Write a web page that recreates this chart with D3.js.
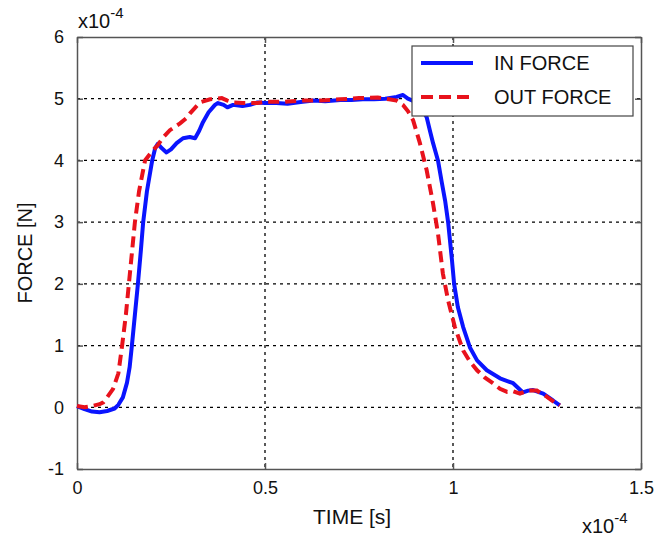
<!DOCTYPE html>
<html>
<head>
<meta charset="utf-8">
<script src="https://cdn.jsdelivr.net/npm/d3@7"></script>
<style>
  body { margin: 0; background: #fff; }
  svg { font-family: "Liberation Sans", Arial, sans-serif; }
</style>
</head>
<body>
<script>
// time in units of 1e-4 s, force in units of 1e-4 N
const inTime = [0, 0.02, 0.04, 0.06, 0.08, 0.1, 0.11, 0.122, 0.133, 0.14, 0.146, 0.154, 0.162, 0.17, 0.176, 0.186, 0.2, 0.208, 0.215, 0.225, 0.238, 0.25, 0.265, 0.282, 0.3, 0.314, 0.325, 0.335, 0.35, 0.367, 0.375, 0.39, 0.4, 0.415, 0.44, 0.46, 0.48, 0.5, 0.53, 0.56, 0.6, 0.63, 0.66, 0.7, 0.73, 0.76, 0.79, 0.82, 0.85, 0.867, 0.88, 0.9, 0.915, 0.93, 0.94, 0.947, 0.96, 0.97, 0.979, 0.987, 0.997, 1.003, 1.013, 1.027, 1.045, 1.064, 1.09, 1.125, 1.16, 1.186, 1.2, 1.213, 1.24, 1.266, 1.284];
const inForce = [0.02, -0.03, -0.07, -0.08, -0.06, -0.02, 0.04, 0.16, 0.4, 0.65, 1.0, 1.5, 2.0, 2.55, 3.0, 3.5, 4.0, 4.2, 4.27, 4.2, 4.13, 4.18, 4.28, 4.36, 4.38, 4.36, 4.48, 4.62, 4.78, 4.9, 4.93, 4.9, 4.86, 4.9, 4.88, 4.9, 4.94, 4.93, 4.93, 4.92, 4.95, 4.97, 4.96, 4.98, 4.98, 4.99, 4.99, 5.0, 5.03, 5.06, 5.0, 4.95, 4.85, 4.7, 4.45, 4.28, 4.0, 3.65, 3.35, 3.0, 2.4, 2.0, 1.62, 1.3, 0.97, 0.76, 0.6, 0.47, 0.39, 0.24, 0.27, 0.28, 0.22, 0.11, 0.03];

const outTime = [0, 0.02, 0.04, 0.06, 0.07, 0.08, 0.096, 0.11, 0.12, 0.13, 0.138, 0.146, 0.154, 0.165, 0.181, 0.2, 0.215, 0.23, 0.247, 0.274, 0.29, 0.3, 0.315, 0.327, 0.354, 0.385, 0.4, 0.415, 0.44, 0.48, 0.5, 0.55, 0.6, 0.65, 0.7, 0.75, 0.8, 0.83, 0.85, 0.867, 0.88, 0.894, 0.912, 0.93, 0.947, 0.96, 0.973, 0.987, 1.005, 1.027, 1.045, 1.064, 1.085, 1.106, 1.125, 1.144, 1.16, 1.178, 1.197, 1.223, 1.25, 1.27, 1.284];
const outForce = [0.02, 0.0, 0.02, 0.05, 0.08, 0.16, 0.3, 0.55, 1.0, 1.5, 2.0, 2.5, 3.0, 3.5, 4.0, 4.15, 4.25, 4.38, 4.49, 4.6, 4.68, 4.76, 4.86, 4.94, 4.99, 5.01, 4.97, 4.94, 4.93, 4.93, 4.95, 4.95, 4.97, 4.97, 4.99, 5.01, 5.02, 4.99, 4.97, 4.9, 4.8, 4.65, 4.28, 3.84, 3.3, 2.82, 2.17, 1.73, 1.3, 0.92, 0.74, 0.6, 0.48, 0.39, 0.3, 0.25, 0.26, 0.22, 0.27, 0.27, 0.17, 0.08, 0.03];

const xTicks = [0, 0.5, 1, 1.5];
const yTicks = [-1, 0, 1, 2, 3, 4, 5, 6];
const seriesNames = ['IN FORCE', 'OUT FORCE'];

const width = 666, height = 537;
const margin = {left: 77, top: 37, right: 25, bottom: 68};
const plotW = width - margin.left - margin.right;
const plotH = height - margin.top - margin.bottom;

let svg = d3.select('body').append('svg')
    .attr('width', width)
    .attr('height', height);

let xScale = d3.scaleLinear().domain([0, 1.5]).range([0, plotW]);
let yScale = d3.scaleLinear().domain([-1, 6]).range([plotH, 0]);

let g = svg.append('g').attr('transform', `translate(${margin.left}, ${margin.top})`);

//grid
g.append('g').selectAll('line')
    .data(xTicks.slice(1, -1))
    .enter().append('line')
    .attr('x1', d => xScale(d)).attr('x2', d => xScale(d))
    .attr('y1', 0).attr('y2', plotH)
    .attr('stroke', '#000').attr('stroke-width', 1.3)
    .attr('stroke-dasharray', '3,4');
g.append('g').selectAll('line')
    .data(yTicks.slice(1, -1))
    .enter().append('line')
    .attr('x1', 0).attr('x2', plotW)
    .attr('y1', d => yScale(d)).attr('y2', d => yScale(d))
    .attr('stroke', '#000').attr('stroke-width', 1.3)
    .attr('stroke-dasharray', '3,4');

//axes with inward ticks
const tickLen = 6;
const fmt = d => String(d);
let xAxis = d3.axisBottom(xScale).tickValues(xTicks).tickSizeInner(-tickLen).tickSizeOuter(0).tickPadding(12).tickFormat(fmt);
let xAxisTop = d3.axisTop(xScale).tickValues(xTicks).tickSizeInner(-tickLen).tickSizeOuter(0).tickFormat('');
let yAxis = d3.axisLeft(yScale).tickValues(yTicks).tickSizeInner(-tickLen).tickSizeOuter(0).tickPadding(13).tickFormat(fmt);
let yAxisRight = d3.axisRight(yScale).tickValues(yTicks).tickSizeInner(-tickLen).tickSizeOuter(0).tickFormat('');

g.append('g').attr('transform', `translate(0, ${plotH})`).call(xAxis);
g.append('g').call(xAxisTop);
g.append('g').call(yAxis);
g.append('g').attr('transform', `translate(${plotW}, 0)`).call(yAxisRight);

g.selectAll('.domain, .tick line').attr('stroke', '#555').attr('stroke-width', 1.5);
g.selectAll('.tick text').attr('font-size', 18).attr('fill', '#111');

//series
let line = d3.line().x(d => xScale(d[0])).y(d => yScale(d[1]));
let inData = inTime.map((t, i) => [t, inForce[i]]);
let outData = outTime.map((t, i) => [t, outForce[i]]);

g.append('path').datum(inData)
    .attr('d', line).attr('fill', 'none')
    .attr('stroke', '#0a14ff').attr('stroke-width', 4).attr('stroke-linejoin', 'round');
g.append('path').datum(outData)
    .attr('d', line).attr('fill', 'none')
    .attr('stroke', '#e8121c').attr('stroke-width', 4)
    .attr('stroke-dasharray', '11,6');

//legend
let legend = svg.append('g').attr('transform', 'translate(412, 46)');
legend.append('rect')
    .attr('width', 221).attr('height', 70)
    .attr('fill', '#fff').attr('stroke', '#444').attr('stroke-width', 1.2);
legend.selectAll('line.key')
    .data(seriesNames)
    .enter().append('line')
    .attr('class', 'key')
    .attr('x1', 9).attr('x2', 61)
    .attr('y1', (d, i) => 17 + i * 34).attr('y2', (d, i) => 17 + i * 34)
    .attr('stroke', (d, i) => i === 0 ? '#0a14ff' : '#e8121c')
    .attr('stroke-width', 4)
    .attr('stroke-dasharray', (d, i) => i === 0 ? null : '12,6');
legend.selectAll('text')
    .data(seriesNames)
    .enter().append('text')
    .attr('x', 82).attr('y', (d, i) => 24 + i * 34)
    .attr('font-size', 20).attr('fill', '#111')
    .text(d => d);

//labels
svg.append('text')
    .attr('x', 313).attr('y', 524)
    .attr('font-size', 21).attr('fill', '#111')
    .text('TIME [s]');
svg.append('text')
    .attr('transform', `translate(32, ${margin.top + plotH / 2}) rotate(-90)`)
    .attr('text-anchor', 'middle').attr('font-size', 20).attr('fill', '#111')
    .text('FORCE [N]');

const addExp = (x, y) => {
    let t = svg.append('text').attr('x', x).attr('y', y).attr('font-size', 20).attr('fill', '#111');
    t.append('tspan').text('x10');
    t.append('tspan').attr('dy', -10).attr('font-size', 15).text('-4');
};
addExp(78, 28);
addExp(582, 533);
</script>
</body>
</html>
